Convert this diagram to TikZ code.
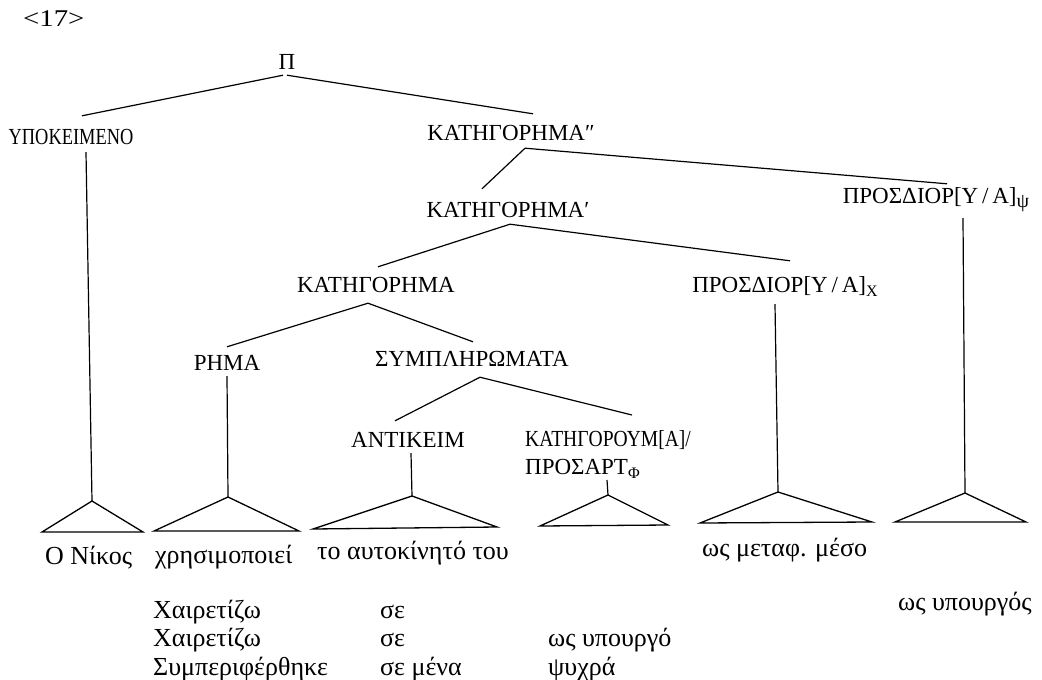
\documentclass[tikz,border=0pt]{standalone}
\usepackage{fontspec}
\usepackage{graphicx}
\setmainfont{Liberation Serif}
\usetikzlibrary{calc}
% lowered subscript letters of the category labels
\newcommand{\catsub}[2][16]{\raisebox{-4pt}{\fontsize{#1}{#1}\selectfont #2}}
\begin{document}
\begin{tikzpicture}[x=1pt,y=-1pt,
  cat/.style={font=\fontsize{23}{27}\selectfont, inner sep=0pt,
    text height=15pt, text depth=0pt, anchor=base},
  catml/.style={font=\fontsize{23}{28}\selectfont, inner sep=0pt,
    align=left, anchor=north west},
  word/.style={font=\fontsize{26}{30}\selectfont, inner sep=0pt, anchor=base west},
  branch/.style={line width=1.2pt},
  tri/.style={line width=1.3pt, line join=miter}]
\useasboundingbox (0,0) rectangle (1042,680);

% example number
\node[word, font=\fontsize{24}{28}\selectfont] (num) at (23,27) {\scalebox{1.2}[1]{<17>}};

% category labels
\node[cat] (P)     at (287,69)  {Π};
\node[cat] (YPOK)  at (71,144)  {\scalebox{0.8}[1]{ΥΠΟΚΕΙΜΕΝΟ}};
\node[cat] (KAT2)  at (511,140) {ΚΑΤΗΓΟΡΗΜΑ″};
\node[cat] (KAT1)  at (508,217) {ΚΑΤΗΓΟΡΗΜΑ′};
\node[cat] (PROSY) at (936,203) {ΠΡΟΣΔΙΟΡ[Υ\,/\,Α]\catsub[20]{ψ}};
\node[cat] (KAT0)  at (376,292) {ΚΑΤΗΓΟΡΗΜΑ};
\node[cat] (PROSX) at (785,292) {ΠΡΟΣΔΙΟΡ[Υ\,/\,Α]\catsub{Χ}};
\node[cat] (RHMA)  at (227,370) {ΡΗΜΑ};
\node[cat] (SYMPL) at (472,366) {ΣΥΜΠΛΗΡΩΜΑΤΑ};
\node[cat] (ANTIK) at (408,447) {ΑΝΤΙΚΕΙΜ};
\node[catml] (KATOUM) at (525,430) {\scalebox{0.85}[1]{ΚΑΤΗΓΟΡΟΥΜ[Α]/}\\ΠΡΟΣΑΡΤ\catsub{Φ}};

% apexes of the leaf triangles
\coordinate (A1) at (92,501);
\coordinate (A2) at (228,497);
\coordinate (A3) at (412,496);
\coordinate (A4) at (608,495);
\coordinate (A5) at (778,492);
\coordinate (A6) at (965,493);

% branches
\draw[branch] ($(P.south)+(-4,6)$) -- ($(YPOK.north)+(11,-13)$);
\draw[branch] ($(P.south)+(0,6)$) -- ($(KAT2.north)+(22,-11)$);
\draw[branch] ($(KAT2.south)+(14,8)$) -- ($(KAT1.north)+(-26,-13)$);
\draw[branch] ($(KAT2.south)+(14,8)$) -- ($(PROSY.north)+(11,-4)$);
\draw[branch] ($(KAT1.south)+(2,7)$) -- ($(KAT0.north)+(2,-10)$);
\draw[branch] ($(KAT1.south)+(2,7)$) -- ($(PROSX.north)+(5,-16)$);
\draw[branch] ($(KAT0.south)+(-8,11)$) -- ($(RHMA.north)+(0,-8)$);
\draw[branch] ($(KAT0.south)+(-8,11)$) -- ($(SYMPL.north)+(1,-9)$);
\draw[branch] ($(SYMPL.south)+(8,11)$) -- ($(ANTIK.north)+(-13,-11)$);
\draw[branch] ($(SYMPL.south)+(8,11)$) -- ($(KATOUM.north west)+(107,-15)$);

% stems down to the triangles
\draw[branch] ($(YPOK.south)+(15,8)$) -- (A1);
\draw[branch] ($(RHMA.south)+(0,6)$) -- (A2);
\draw[branch] ($(ANTIK.south)+(3,6)$) -- (A3);
\draw[branch] ($(KATOUM.north west)+(82,50)$) -- (A4);
\draw[branch] ($(PROSX.south)+(-10,12)$) -- (A5);
\draw[branch] ($(PROSY.south)+(27,15)$) -- (A6);

% leaf triangles
\draw[tri] (A1) -- (42,532) -- (143,532) -- cycle;
\draw[tri] (A2) -- (154,531) -- (299,531) -- cycle;
\draw[tri] (A3) -- (313,529) -- (497,527) -- cycle;
\draw[tri] (A4) -- (540,526) -- (668,525) -- cycle;
\draw[tri] (A5) -- (700,523) -- (872,522) -- cycle;
\draw[tri] (A6) -- (895,522) -- (1026,522) -- cycle;

% terminal strings
\node[word] (w1) at (45,564)  {Ο Νίκος};
\node[word] (w2) at (155,563) {χρησιμοποιεί};
\node[word] (w3) at (317,559) {το αυτοκίνητό του};
\node[word] (w5) at (702,556) {ως μεταφ. μέσο};
\node[word] (w6) at (898,610) {ως υπουργός};

% further examples
\node[word] (e11) at (153,618) {Χαιρετίζω};
\node[word] (e12) at (380,618) {σε};
\node[word] (e21) at (153,646) {Χαιρετίζω};
\node[word] (e22) at (380,646) {σε};
\node[word] (e23) at (548,646) {ως υπουργό};
\node[word] (e31) at (153,675) {Συμπεριφέρθηκε};
\node[word] (e32) at (380,675) {σε μένα};
\node[word] (e33) at (548,675) {ψυχρά};
\end{tikzpicture}
\end{document}
